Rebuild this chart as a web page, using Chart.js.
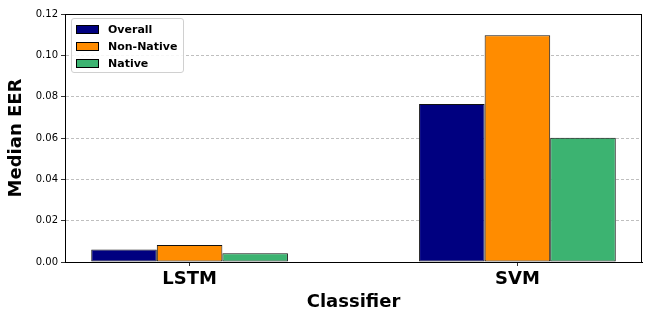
<!DOCTYPE html>
<html>
<head>
<meta charset="utf-8">
<script src="https://cdn.jsdelivr.net/npm/chart.js@4/dist/chart.umd.min.js"></script>
<style>
  html, body { margin: 0; padding: 0; background: #fff; }
  #wrap { position: relative; width: 650px; height: 321px; }
  #legend {
    position: absolute; left: 71px; top: 18px; width: 113px; height: 55px;
    background: rgba(255,255,255,0.85); border: 1px solid #d0d0d0; border-radius: 3px;
    font-family: "DejaVu Sans", sans-serif; font-weight: bold; font-size: 11px; color: #000;
    box-sizing: border-box; padding-top: 3px;
  }
  .item { position: relative; height: 17px; }
  .sw { position: absolute; left: 4px; top: 3px; width: 21px; height: 7px; border: 1px solid #000; }
  .lb { position: absolute; left: 36px; top: 0px; line-height: 15px; white-space: nowrap; }
</style>
</head>
<body>
<div id="wrap">
  <canvas id="c" width="650" height="321"></canvas>
  <div id="legend"></div>
</div>
<script>
const categories = ["LSTM", "SVM"];
const seriesNames = ["Overall", "Non-Native", "Native"];
const overall = [0.0061, 0.0764];
const nonNative = [0.0082, 0.1097];
const native = [0.0042, 0.0601];
const yTicks = [0, 0.02, 0.04, 0.06, 0.08, 0.10, 0.12];
const colors = ["#000080", "#ff8c00", "#3cb371"];

const seriesValues = [overall, nonNative, native];
const datasets = seriesValues.map((vals, i) => ({
  label: seriesNames[i],
  data: vals.map((v, j) => ({ x: j, y: v })),
  backgroundColor: colors[i],
  borderColor: "#111",
  borderWidth: 1,
  borderSkipped: false,
  categoryPercentage: 0.6,
  barPercentage: 1.0
}));

const frame = {
  id: "frame",
  afterDraw(chart) {
    const a = chart.chartArea, ctx = chart.ctx;
    ctx.save();
    ctx.strokeStyle = "#000";
    ctx.lineWidth = 1;
    ctx.strokeRect(Math.round(a.left) + 0.5, Math.round(a.top) + 0.5,
                   Math.round(a.right - a.left) - 1, Math.round(a.bottom - a.top));
    ctx.restore();
  }
};

const chart = new Chart(document.getElementById("c"), {
  type: "bar",
  data: { datasets },
  plugins: [frame],
  options: {
    responsive: false,
    animation: false,
    layout: { padding: { top: 14, right: 8, left: 0, bottom: 0 } },
    plugins: { legend: { display: false }, tooltip: { enabled: false } },
    scales: {
      x: {
        type: "linear",
        offset: false,
        min: -0.38, max: 1.38,
        afterBuildTicks: (s) => { s.ticks = categories.map((_, i) => ({ value: i })); },
        afterFit: (s) => { s.height = 59; },
        ticks: {
          callback: (v) => categories[v],
          color: "#000",
          font: { family: "DejaVu Sans", size: 18, weight: "bold" },
          padding: 3,
          maxRotation: 0, autoSkip: false
        },
        grid: { offset: false, drawOnChartArea: false, tickLength: 4, tickColor: "#333", tickWidth: 1 },
        border: { color: "#000" },
        title: {
          display: true, text: "Classifier", color: "#000",
          font: { family: "DejaVu Sans", size: 18, weight: "bold" },
          padding: { top: 0, bottom: 8 }
        }
      },
      y: {
        min: 0, max: 0.12,
        z: 1,
        afterBuildTicks: (s) => { s.ticks = yTicks.map(v => ({ value: v })); },
        afterFit: (s) => { s.width = 65; },
        ticks: {
          callback: (v) => v.toFixed(2),
          color: "#000",
          font: { family: "DejaVu Sans", size: 10 },
          padding: 3
        },
        grid: { color: "rgba(170,170,170,0.75)", lineWidth: 1, tickLength: 4, tickColor: "#333", tickWidth: 1 },
        border: { color: "#000", dash: [3, 2] },
        title: {
          display: true, text: "Median EER", color: "#000",
          font: { family: "DejaVu Sans", size: 18, weight: "bold" },
          padding: { top: 6, bottom: 0 }
        }
      }
    }
  }
});

const leg = document.getElementById("legend");
seriesNames.forEach((n, i) => {
  const it = document.createElement("div");
  it.className = "item";
  const sw = document.createElement("div");
  sw.className = "sw";
  sw.style.background = colors[i];
  const lb = document.createElement("div");
  lb.className = "lb";
  lb.textContent = n;
  it.appendChild(sw); it.appendChild(lb);
  leg.appendChild(it);
});
</script>
</body>
</html>
